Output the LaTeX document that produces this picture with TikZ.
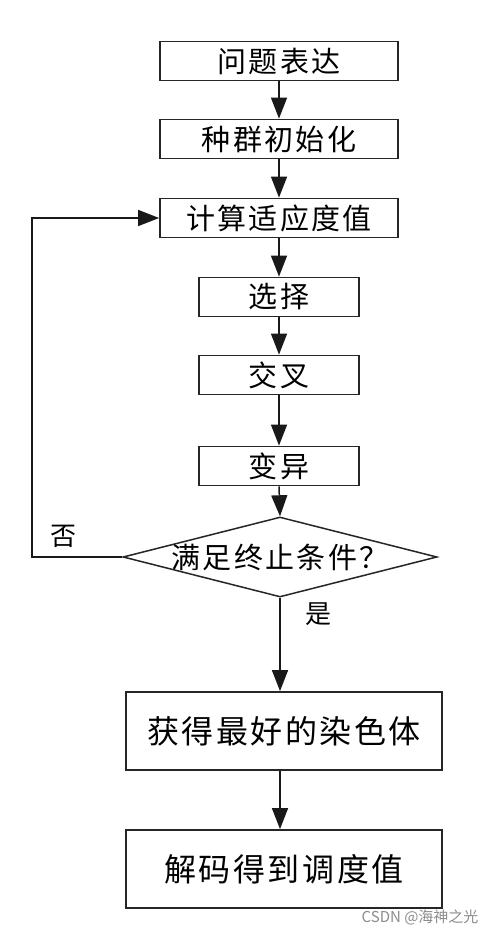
\documentclass[tikz,border=0pt]{standalone}
\usepackage{fontspec}
\newfontfamily\cjk[LetterSpace=8]{Noto Sans CJK SC}
\newfontfamily\cjkplain{Noto Sans CJK SC}
\usetikzlibrary{shapes.geometric,arrows.meta}

\tikzset{
  flow/.style={draw=black!85, line width=1.8pt, inner sep=0pt, font=\cjk\fontsize{29}{29}\selectfont},
  widebox/.style={flow, minimum width=238pt, minimum height=39pt},
  smallbox/.style={flow, minimum width=160pt, minimum height=39pt},
  bigbox/.style={flow, minimum width=316pt, minimum height=78pt, font=\cjk\fontsize{32}{32}\selectfont},
  decision/.style={draw=black!85, line width=1.5pt, diamond, minimum width=314pt, minimum height=80pt, inner sep=0pt},
  link/.style={draw=black!90, line width=1.5pt, -{Triangle[width=16pt,length=21pt]}},
  tag/.style={font=\cjkplain\fontsize{26}{26}\selectfont}
}

\begin{document}
\begin{tikzpicture}[x=1pt,y=-1pt]
  \fill[white](0,0) rectangle (492,933);
  \useasboundingbox (0,0) rectangle (492,933);

  % main steps
  \node[widebox] (task) at (279,61) {问题表达};
  \node[widebox] (init) at (279,139) {种群初始化};
  \node[widebox] (fit) at (279,218) {计算适应度值};
  \node[smallbox] (sel) at (279,297) {选择};
  \node[smallbox] (cross) at (279,375) {交叉};
  \node[smallbox] (mut) at (279,466) {变异};
  \node[decision, label={[font=\cjk\fontsize{29}{29}\selectfont]center:满足终止条件？}] (cond) at (280,557) {};
  \node[bigbox] (best) at (284,731) {获得最好的染色体};
  \node[bigbox] (dec) at (284,869) {解码得到调度值};

  \draw[link](task)--(init);
  \draw[link](init)--(fit);
  \draw[link](fit)--(sel);
  \draw[link](sel)--(cross);
  \draw[link](cross)--(mut);
  \draw[link](mut.south)--(cond.north);
  \draw[link](cond.south)--(cond.south |- best.north);
  \draw[link](best.south -| cond.south)--(cond.south |- dec.north);

  % loop back
  \coordinate (back) at (32,557);
  \draw[link](cond.west)--(back)|-(fit.west);
  \node[tag] (no) at (63,536) {否};
  \node[tag] (yes) at (318,614) {是};

  \node[font=\cjkplain\fontsize{15}{15}\selectfont, text=black!45, anchor=east] (mark) at (482,917) {CSDN @海神之光};
\end{tikzpicture}
\end{document}
